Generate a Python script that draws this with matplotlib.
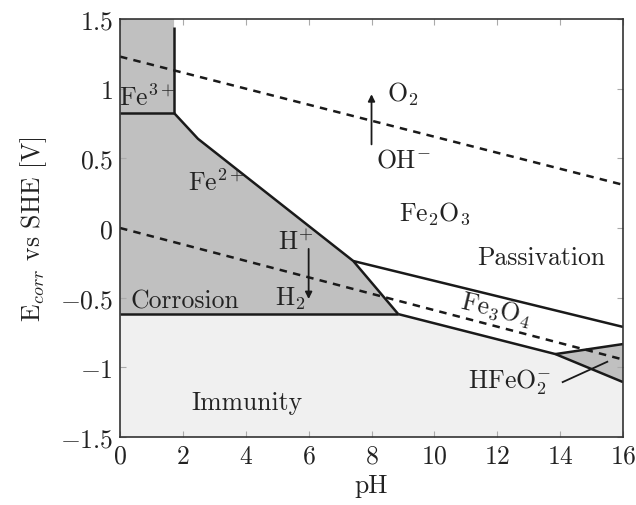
import matplotlib
matplotlib.use('Agg')
import matplotlib.pyplot as plt

plt.rcParams['font.family'] = 'serif'
plt.rcParams['font.serif'] = ['cmr10']
plt.rcParams['mathtext.fontset'] = 'cm'
plt.rcParams['axes.formatter.use_mathtext'] = True

# boundary lines (pH, E)
fe3_ph = [0, 1.72]
fe3_e = [0.825, 0.825]
fe3_vert_ph = [1.72, 1.72]
fe3_vert_e = [0.825, 1.44]
fe2_ph = [1.72, 2.48, 7.42, 8.85]
fe2_e = [0.825, 0.64, -0.237, -0.618]
corr_ph = [0, 8.85]
corr_e = [-0.618, -0.618]
fe2o3_ph = [7.42, 16]
fe2o3_e = [-0.237, -0.71]
fe3o4_ph = [8.85, 13.85, 16]
fe3o4_e = [-0.618, -0.905, -1.106]
hfeo2_ph = [13.85, 16]
hfeo2_e = [-0.905, -0.833]
pointer_ph = [14.08, 15.5]
pointer_e = [-1.106, -0.96]

# water stability lines
o2_ph = [0, 16]
o2_e = [1.23, 0.31]
h2_ph = [0, 16]
h2_e = [0.0, -0.944]

xticks = [0, 2, 4, 6, 8, 10, 12, 14, 16]
yticks = [-1.5, -1, -0.5, 0, 0.5, 1, 1.5]
ylabels = ['$-1.5$', '$-1$', '$-0.5$', '$0$', '$0.5$', '$1$', '$1.5$']

fig = plt.figure(figsize=(6.36, 5.06), dpi=100)
ax = fig.add_axes([0.1887, 0.1344, 0.7909, 0.8261])

dark = '#c0c0c0'
light = '#f0f0f0'
# immunity region
ax.fill([0, 8.85, 13.85, 16, 16, 0], [-0.618, -0.618, -0.905, -1.106, -1.5, -1.5],
        color=light, lw=0, zorder=0)
# corrosion region (Fe2+ and Fe3+)
ax.fill([0, 8.85, 7.42, 2.48, 1.72, 1.72, 0], [-0.618, -0.618, -0.237, 0.64, 0.825, 1.5, 1.5],
        color=dark, lw=0, zorder=0)
# HFeO2- region
ax.fill([13.85, 16, 16], [-0.905, -0.833, -1.106], color=dark, lw=0, zorder=0)

k = dict(color='#1a1a1a', lw=1.8, solid_capstyle='butt')
ax.plot(fe3_ph, fe3_e, **k)
ax.plot(fe3_vert_ph, fe3_vert_e, **k)
ax.plot(fe2_ph, fe2_e, **k)
ax.plot(corr_ph, corr_e, **k)
ax.plot(fe2o3_ph, fe2o3_e, **k)
ax.plot(fe3o4_ph, fe3o4_e, **k)
ax.plot(hfeo2_ph, hfeo2_e, **k)
ax.plot(pointer_ph, pointer_e, color='#1a1a1a', lw=1.3)
ax.plot(o2_ph, o2_e, color='#1a1a1a', lw=1.8, ls=(0, (3, 2.5)))
ax.plot(h2_ph, h2_e, color='#1a1a1a', lw=1.8, ls=(0, (3, 2.5)))

ap = dict(arrowstyle='-|>', color='#1a1a1a', lw=1.3, mutation_scale=10, shrinkA=0, shrinkB=0)
ax.annotate('', xy=(8.0, 0.96), xytext=(8.0, 0.6), arrowprops=ap)
ax.annotate('', xy=(6.0, -0.51), xytext=(6.0, -0.15), arrowprops=ap)

fs = 18.5
t = dict(fontsize=fs, color='#222222', ha='center', va='center')
ax.text(0.85, 0.94, r'Fe$^{3+}$', **t)
ax.text(9.0, 0.97, r'O$_2$', **t)
ax.text(9.0, 0.49, r'OH$^{-}$', **t)
ax.text(3.05, 0.33, r'Fe$^{2+}$', **t)
ax.text(10.0, 0.11, r'Fe$_2$O$_3$', **t)
ax.text(13.4, -0.21, 'Passivation', **t)
ax.text(5.6, -0.1, r'H$^{+}$', **t)
ax.text(5.4, -0.5, r'H$_2$', **t)
ax.text(2.05, -0.52, 'Corrosion', **t)
ax.text(11.95, -0.58, r'Fe$_3$O$_4$', rotation=-13.5, **t)
ax.text(12.4, -1.1, r'HFeO$_2^{-}$', **t)
ax.text(4.05, -1.25, 'Immunity', **t)

ax.set_xlim(0, 16)
ax.set_ylim(-1.5, 1.5)
ax.set_xticks(xticks)
ax.set_xticklabels(['$%d$' % v for v in xticks])
ax.set_yticks(yticks)
ax.set_yticklabels(ylabels)
ax.tick_params(direction='in', length=4, width=0.8, color='#aaaaaa', labelsize=fs,
               labelcolor='#222222', top=True, right=True, pad=5)
for s in ax.spines.values():
    s.set_color('#333333')
    s.set_linewidth(1.2)
ax.set_xlabel('pH', fontsize=fs, color='#222222', labelpad=4)
ax.set_ylabel(r'E$_{corr}$ vs SHE [V]', fontsize=fs, color='#222222', labelpad=8)

fig.savefig('out.png', dpi=100)
